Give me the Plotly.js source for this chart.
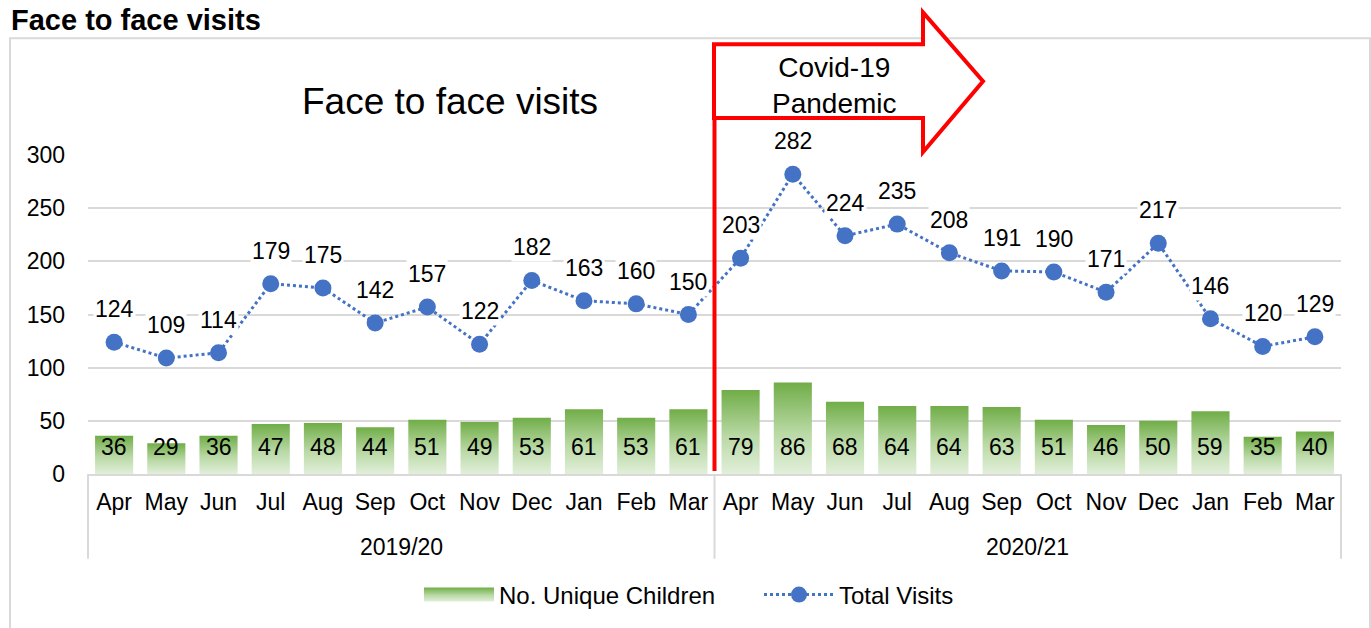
<!DOCTYPE html>
<html><head><meta charset="utf-8">
<script src="https://cdn.plot.ly/plotly-3.0.1.min.js"></script>
<style>html,body{margin:0;padding:0;background:#fff;}</style>
</head><body>
<div id="chart" style="width:1371px;height:628px;"></div>
<script>
var years = ["2019/20","2020/21"];
var monthsPerYear = ["Apr","May","Jun","Jul","Aug","Sep","Oct","Nov","Dec","Jan","Feb","Mar"];
var uniqueChildren = [36,29,36,47,48,44,51,49,53,61,53,61, 79,86,68,64,64,63,51,46,50,59,35,40];
var totalVisits = [124,109,114,179,175,142,157,122,182,163,160,150, 203,282,224,235,208,191,190,171,217,146,120,129];
var pageHeading = "Face to face visits";
var chartTitle = "Face to face visits";
var covidLabel = "Covid-19<br>Pandemic";

var FONT = "Arial, 'Liberation Sans', sans-serif";

// category positions (one slot per month of each year)
var months = [], xIdx = [];
years.forEach(function(y, yi){ monthsPerYear.forEach(function(m, mi){ months.push(m); xIdx.push(yi*monthsPerYear.length + mi); }); });

var traces = [
  {type:'bar', name:'No. Unique Children', x:xIdx, y:uniqueChildren,
   marker:{color:'#70AD47'}, hoverinfo:'y'},
  {type:'scatter', mode:'lines+markers', name:'Total Visits', x:xIdx, y:totalVisits,
   line:{color:'#4472C4', width:3, dash:'dot'}, marker:{color:'#4472C4', size:17}, cliponaxis:false}
];

function px(x){return (x-88)/1253;}
function py(y){return (475-y)/320;}

var annotations = [];
totalVisits.forEach(function(v,i){
  annotations.push({x:xIdx[i], y:v, xref:'x', yref:'y', text:String(v), showarrow:false, yshift:33,
    bgcolor:'#ffffff', borderpad:1, font:{family:FONT, size:23, color:'#000'}});
});
uniqueChildren.forEach(function(v,i){
  annotations.push({x:xIdx[i], y:0, xref:'x', yref:'y', text:String(v), showarrow:false, yshift:27,
    font:{family:FONT, size:23, color:'#000'}});
});
years.forEach(function(y, yi){
  annotations.push({x:yi*monthsPerYear.length + (monthsPerYear.length-1)/2, y:py(548), xref:'x', yref:'paper',
    text:y, showarrow:false, yanchor:'middle', font:{family:FONT, size:23, color:'#000'}});
});
annotations.push({xref:'paper', yref:'paper', x:px(9), y:py(20), xanchor:'left', yanchor:'middle',
  text:'<b>'+pageHeading+'</b>', showarrow:false, font:{family:FONT, size:29, color:'#000'}});
annotations.push({xref:'paper', yref:'paper', x:px(450), y:py(101), xanchor:'center', yanchor:'middle',
  text:chartTitle, showarrow:false, font:{family:FONT, size:37, color:'#000'}});
annotations.push({xref:'paper', yref:'paper', x:px(834), y:py(85), xanchor:'center', yanchor:'middle',
  text:covidLabel, showarrow:false, font:{family:FONT, size:28, color:'#000'}});

var arrowPath = 'M '+px(714)+','+py(44)+' L '+px(923)+','+py(44)+' L '+px(923)+','+py(12)+
  ' L '+px(983)+','+py(81)+' L '+px(923)+','+py(152)+' L '+px(923)+','+py(118)+' L '+px(714)+','+py(118)+' Z';

var shapes = [
  {type:'rect', xref:'paper', yref:'paper', x0:px(10), x1:px(1370), y0:py(660), y1:py(38),
   line:{color:'#d9d9d9', width:2}, fillcolor:'rgba(0,0,0,0)', layer:'below'},
  {type:'line', xref:'paper', yref:'paper', x0:0, x1:0, y0:0, y1:py(560), line:{color:'#d9d9d9', width:2}},
  {type:'line', xref:'paper', yref:'paper', x0:0.5, x1:0.5, y0:0, y1:py(560), line:{color:'#d9d9d9', width:2}},
  {type:'line', xref:'paper', yref:'paper', x0:1, x1:1, y0:0, y1:py(560), line:{color:'#d9d9d9', width:2}},
  {type:'line', xref:'paper', yref:'paper', x0:0.5, x1:0.5, y0:py(472), y1:py(118),
   line:{color:'#ff0000', width:4}},
  {type:'path', xref:'paper', yref:'paper', path:arrowPath, fillcolor:'#ffffff',
   line:{color:'#ff0000', width:4}}
];

var layout = {
  width:1371, height:628,
  margin:{l:88, r:30, t:155, b:153},
  paper_bgcolor:'#ffffff', plot_bgcolor:'#ffffff',
  font:{family:FONT, size:23, color:'#000'},
  showlegend:true,
  legend:{orientation:'h', x:px(419), xanchor:'left', y:py(595), yanchor:'middle',
          font:{family:FONT, size:24, color:'#000'}, traceorder:'normal', itemwidth:70,
          entrywidth:255, entrywidthmode:'pixels'},
  bargap:0.27,
  xaxis:{range:[-0.5, xIdx.length-0.5], tickvals:xIdx, ticktext:months, showgrid:false,
         showline:true, linecolor:'#d9d9d9', linewidth:2, zeroline:false, ticks:'',
         ticklabelstandoff:6, tickfont:{family:FONT, size:23, color:'#000'}},
  yaxis:{range:[0,300], dtick:50, showgrid:true, gridcolor:'#d9d9d9', gridwidth:2, zeroline:false,
         showline:false, ticks:'', ticklabelstandoff:22,
         tickfont:{family:FONT, size:23, color:'#000'}},
  annotations:annotations,
  shapes:shapes
};

function ensureGradient(gd){
  var svgNS = 'http://www.w3.org/2000/svg';
  var svg = gd.querySelector('svg.main-svg');
  if (!svg.querySelector('#barGrad')) {
    var defs = svg.querySelector('defs');
    var grad = document.createElementNS(svgNS,'linearGradient');
    grad.setAttribute('id','barGrad');
    grad.setAttribute('x1','0'); grad.setAttribute('y1','0');
    grad.setAttribute('x2','0'); grad.setAttribute('y2','1');
    [['0','#70AD47'],['0.55','#B9D9A5'],['1','#E2EFDA']].forEach(function(s){
      var st = document.createElementNS(svgNS,'stop');
      st.setAttribute('offset',s[0]); st.setAttribute('stop-color',s[1]);
      grad.appendChild(st);
    });
    defs.appendChild(grad);
  }
}
function restyleDom(gd){
  ensureGradient(gd);
  gd.querySelectorAll('.barlayer .point path').forEach(function(p){ p.style.fill='url(#barGrad)'; });
  // bar legend swatch: widen to the same span as the line symbol (x 5..75 in item coords)
  gd.querySelectorAll('.legend .legendpoints path').forEach(function(p){
    if (!p.classList.contains('scatterpts')) {
      p.setAttribute('transform','translate(40,0)');
      p.setAttribute('d','M-35,-7h70v14h-70z');
      p.style.fill='url(#barGrad)';
      p.style.strokeWidth='0px';
    }
  });
}

Plotly.newPlot('chart', traces, layout, {displayModeBar:false, staticPlot:true}).then(function(gd){
  restyleDom(gd);
  gd.on('plotly_afterplot', function(){ restyleDom(gd); });
});
</script>
</body></html>
